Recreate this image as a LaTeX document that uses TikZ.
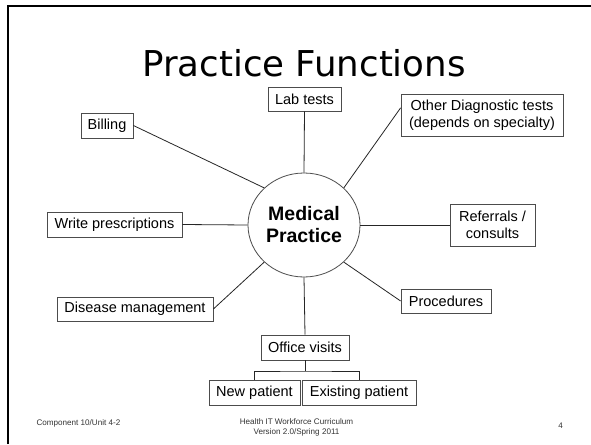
\documentclass[tikz,border=0pt]{standalone}
\usepackage{fontspec}
\usetikzlibrary{shapes.geometric}
\setmainfont{Liberation Sans}
\newfontfamily\titlefont{DejaVu Sans}
\begin{document}
\begin{tikzpicture}[x=1pt,y=-1pt,
  bx/.style={draw=black!70, line width=0.8pt, inner sep=0pt, align=center,
    font=\fontsize{14.5}{17}\selectfont},
  hub/.style={draw=black!70, line width=0.8pt, ellipse, inner sep=0pt, align=center,
    minimum width=112pt, minimum height=104pt,
    font=\bfseries\fontsize{19.5}{22}\selectfont},
  link/.style={line width=0.8pt, draw=black!85},
  foot/.style={text=black!80, font=\fontsize{8.1}{10}\selectfont, align=center, inner sep=0pt}
]
\useasboundingbox (0,0) rectangle (591,444);
\fill[white] (0,0) rectangle (591,444);
% slide frame
\draw[line width=2.3pt] (7.8,444) -- (7.8,5.7) -- (591,5.7);
% title
\node[anchor=base, inner sep=0pt, font=\titlefont\fontsize{35.6}{40}\selectfont] (title) at (304,77) {Practice Functions};
% hub
\node[hub] (mp) at (304,225) {Medical\\Practice};
% boxes
\node[bx, minimum width=73pt, minimum height=24pt] (lab) at (304.5,99) {Lab tests};
\node[bx, minimum width=162pt, minimum height=42pt] (od) at (482,115) {Other Diagnostic tests\\(depends on specialty)};
\node[bx, minimum width=85pt, minimum height=42pt] (ref) at (492.5,225) {Referrals /\\consults};
\node[bx, minimum width=90pt, minimum height=24pt] (proc) at (446,301) {Procedures};
\node[bx, minimum width=52pt, minimum height=25pt] (bill) at (107,125.5) {Billing};
\node[bx, minimum width=135pt, minimum height=25pt] (wp) at (114.5,224.5) {Write prescriptions};
\node[bx, minimum width=156pt, minimum height=24pt] (dm) at (135,309) {Disease management};
\node[bx, minimum width=88pt, minimum height=25pt] (ov) at (305,347.5) {Office visits};
\node[bx, minimum width=91pt, minimum height=25pt] (np) at (254.5,392.5) {New patient};
\node[bx, minimum width=114pt, minimum height=25pt] (ep) at (359,392.5) {Existing patient};
% connectors
\draw[link] (lab.south) -- (mp.north);
\draw[link] (od.175) -- (mp.43);
\draw[link] (ref.west) -- (mp.east);
\draw[link] (proc.west) -- (mp.317);
\draw[link] (bill.east) -- (mp.137);
\draw[link] (wp.east) -- (mp.west);
\draw[link] (dm.east) -- (mp.223);
\draw[link] (mp.south) -- (ov.north);
\coordinate (junc) at (305,371);
\draw[link] (ov.south) -- (junc);
\draw[link] (np.north) |- (junc) -| (ep.north);
% footer
\node[foot] (f1) at (78.5,423) {Component 10/Unit 4-2};
\node[foot] (f2) at (296.5,427) {Health IT Workforce Curriculum\\Version 2.0/Spring 2011};
\node[foot] (f3) at (560.5,426) {4};
\end{tikzpicture}
\end{document}
